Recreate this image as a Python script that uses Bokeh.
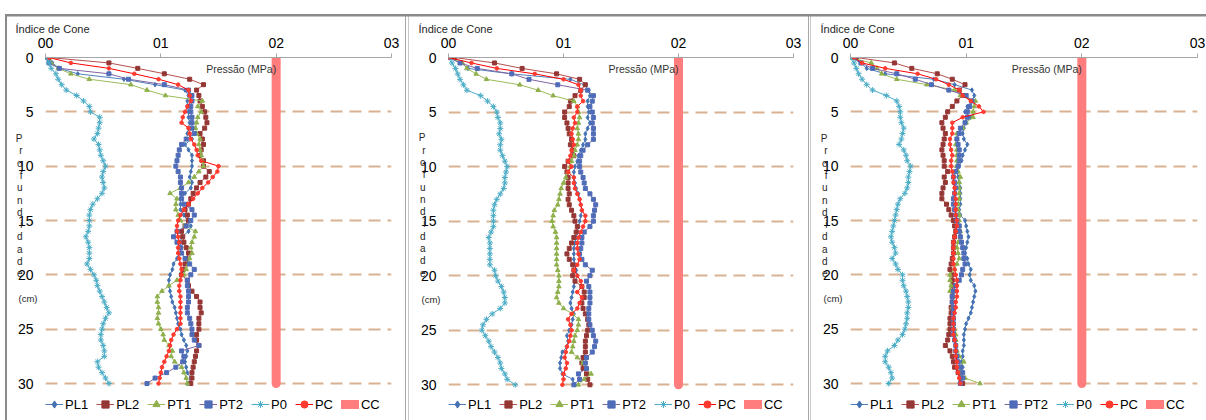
from bokeh.plotting import figure
from bokeh.layouts import row
from bokeh.models import Range1d, FixedTicker, Legend, LegendItem, Label, LinearAxis
from bokeh.embed import file_html
from bokeh.resources import INLINE

# ---------------------------------------------------------------- data
# depth of each reading (cm)
depth = [0, 0.5, 1, 1.5, 2, 2.5, 3, 3.5, 4, 4.5,
         5, 5.5, 6, 6.5, 7, 7.5, 8, 8.5, 9, 9.5,
         10, 10.5, 11, 11.5, 12, 12.5, 13, 13.5, 14, 14.5,
         15, 15.5, 16, 16.5, 17, 17.5, 18, 18.5, 19, 19.5,
         20, 20.5, 21, 21.5, 22, 22.5, 23, 23.5, 24, 24.5,
         25, 25.5, 26, 26.5, 27, 27.5, 28, 28.5, 29, 29.5,
         30]

x_ticks = [0, 1, 2, 3]
x_tick_labels = ["00", "01", "02", "03"]
y_ticks = [0, 5, 10, 15, 20, 25, 30]
grid_depths = [5, 10, 15, 20, 25, 30]
y_title_letters = ["P", "r", "o", "f", "u", "n", "d", "i", "d", "a", "d", "e"]
y_title_unit = "(cm)"

# critical pressure line (CC)
cc_pressure = [2.0, 2.0]
cc_depth = [0, 30]

series_names = ["PL1", "PL2", "PT1", "PT2", "P0", "PC"]

# ---- first profile (MPa)
a_pl1 = [0.00, 0.06, 0.12, 0.28, 0.68, 0.95, 1.21, 1.24, 1.23, 1.23,
         1.24, 1.24, 1.25, 1.24, 1.23, 1.27, 1.21, 1.24, 1.27, 1.27,
         1.27, 1.26, 1.25, 1.27, 1.26, 1.21, 1.17, 1.17, 1.17, 1.20,
         1.23, 1.26, 1.24, 1.18, 1.17, 1.18, 1.16, 1.14, 1.11, 1.10,
         1.08, 1.07, 1.07, 1.08, 1.09, 1.10, 1.12, 1.13, 1.14, 1.15,
         1.17, 1.18, 1.20, 1.22, 1.23, 1.22, 1.21, 1.22, 1.23, 1.26,
         1.23]
a_pl2 = [0.03, 0.55, 0.80, 1.03, 1.25, 1.37, 1.31, 1.33, 1.34, 1.36,
         1.38, 1.39, 1.40, 1.38, 1.34, 1.36, 1.37, 1.35, 1.34, 1.37,
         1.37, 1.42, 1.39, 1.34, 1.31, 1.28, 1.26, 1.24, 1.21, 1.23,
         1.24, 1.21, 1.18, 1.19, 1.20, 1.22, 1.24, 1.22, 1.21, 1.19,
         1.18, 1.23, 1.24, 1.27, 1.31, 1.34, 1.34, 1.35, 1.33, 1.33,
         1.33, 1.31, 1.31, 1.33, 1.31, 1.30, 1.29, 1.28, 1.27, 1.27,
         1.26]
a_pt1 = [0.00, 0.05, 0.11, 0.22, 0.38, 0.74, 0.88, 1.04, 1.36, 1.32,
         1.35, 1.32, 1.31, 1.30, 1.31, 1.34, 1.33, 1.34, 1.35, 1.36,
         1.37, 1.33, 1.29, 1.24, 1.17, 1.08, 1.14, 1.13, 1.13, 1.15,
         1.17, 1.21, 1.30, 1.29, 1.27, 1.26, 1.27, 1.25, 1.24, 1.22,
         1.20, 1.14, 1.07, 1.01, 0.97, 0.97, 0.98, 0.98, 0.97, 0.98,
         1.00, 1.02, 1.03, 1.07, 1.10, 1.09, 1.12, 1.18, 1.20, 1.22,
         1.23]
a_pt2 = [0.00, 0.03, 0.12, 0.55, 0.72, 1.03, 1.24, 1.27, 1.27, 1.26,
         1.26, 1.27, 1.27, 1.27, 1.29, 1.22, 1.18, 1.16, 1.15, 1.14,
         1.13, 1.15, 1.17, 1.17, 1.18, 1.18, 1.18, 1.20, 1.27, 1.29,
         1.26, 1.22, 1.14, 1.11, 1.14, 1.17, 1.18, 1.21, 1.25, 1.29,
         1.26, 1.23, 1.23, 1.24, 1.24, 1.24, 1.23, 1.23, 1.25, 1.26,
         1.27, 1.27, 1.29, 1.33, 1.18, 1.20, 1.19, 1.13, 1.05, 0.95,
         0.88]
a_p0 = [0.01, 0.03, 0.05, 0.09, 0.11, 0.14, 0.18, 0.27, 0.33, 0.38,
        0.39, 0.47, 0.47, 0.46, 0.45, 0.42, 0.46, 0.47, 0.48, 0.50,
        0.52, 0.50, 0.49, 0.50, 0.51, 0.49, 0.45, 0.41, 0.39, 0.38,
        0.38, 0.38, 0.37, 0.35, 0.37, 0.38, 0.38, 0.38, 0.36, 0.39,
        0.42, 0.44, 0.45, 0.47, 0.49, 0.51, 0.53, 0.55, 0.52, 0.50,
        0.49, 0.48, 0.48, 0.50, 0.51, 0.51, 0.45, 0.46, 0.49, 0.52,
        0.55]
a_pc = [0.03, 0.22, 0.55, 0.77, 0.98, 1.15, 1.24, 1.25, 1.26, 1.23,
        1.21, 1.19, 1.18, 1.24, 1.25, 1.26, 1.29, 1.31, 1.32, 1.35,
        1.50, 1.49, 1.45, 1.41, 1.36, 1.32, 1.28, 1.24, 1.20, 1.17,
        1.15, 1.14, 1.14, 1.15, 1.16, 1.15, 1.15, 1.16, 1.17, 1.18,
        1.18, 1.17, 1.16, 1.16, 1.17, 1.17, 1.17, 1.17, 1.17, 1.17,
        1.14, 1.11, 1.09, 1.08, 1.07, 1.05, 1.03, 1.01, 1.00, 0.99,
        0.98]

# ---- second profile (MPa)
b_pl1 = [0.00, 0.11, 0.17, 0.55, 1.06, 1.18, 1.22, 1.23, 1.21, 1.21,
         1.22, 1.21, 1.23, 1.21, 1.19, 1.19, 1.17, 1.15, 1.13, 1.12,
         1.10, 1.09, 1.09, 1.10, 1.11, 1.13, 1.14, 1.15, 1.16, 1.15,
         1.14, 1.13, 1.12, 1.11, 1.10, 1.09, 1.09, 1.09, 1.10, 1.11,
         1.12, 1.10, 1.09, 1.08, 1.07, 1.06, 1.07, 1.09, 1.08, 1.07,
         1.05, 1.03, 1.04, 1.03, 0.99, 0.98, 0.97, 0.97, 0.99, 1.08,
         1.10]
b_pl2 = [0.05, 0.40, 0.64, 0.94, 1.14, 1.19, 1.15, 1.10, 1.06, 1.05,
         1.01, 1.01, 1.03, 1.04, 1.05, 1.07, 1.06, 1.08, 1.09, 1.04,
         1.01, 1.03, 1.04, 1.04, 1.04, 1.05, 1.04, 1.05, 1.07, 1.09,
         1.10, 1.12, 1.11, 1.09, 1.07, 1.05, 1.03, 1.05, 1.08, 1.09,
         1.08, 1.10, 1.16, 1.18, 1.18, 1.16, 1.17, 1.19, 1.21, 1.22,
         1.21, 1.20, 1.19, 1.19, 1.19, 1.17, 1.16, 1.17, 1.20, 1.21,
         1.23]
b_pt1 = [0.00, 0.12, 0.16, 0.24, 0.33, 0.62, 0.78, 0.91, 1.09, 1.12,
         1.13, 1.14, 1.13, 1.12, 1.13, 1.13, 1.12, 1.10, 1.09, 1.07,
         1.06, 1.04, 1.02, 1.00, 0.98, 0.97, 0.96, 0.95, 0.92, 0.91,
         0.90, 0.91, 0.93, 0.94, 0.94, 0.94, 0.94, 0.94, 0.94, 0.95,
         0.96, 0.96, 0.96, 0.95, 0.94, 0.96, 1.00, 1.08, 1.13, 1.13,
         1.12, 1.10, 1.09, 1.08, 1.07, 1.12, 1.17, 1.20, 1.24, 1.18,
         1.13]
b_pt2 = [0.00, 0.10, 0.25, 0.55, 0.70, 0.95, 1.21, 1.26, 1.25, 1.23,
         1.25, 1.26, 1.25, 1.26, 1.26, 1.26, 1.21, 1.17, 1.15, 1.14,
         1.14, 1.15, 1.17, 1.18, 1.19, 1.23, 1.26, 1.28, 1.27, 1.26,
         1.26, 1.23, 1.18, 1.16, 1.16, 1.15, 1.14, 1.16, 1.19, 1.25,
         1.23, 1.20, 1.22, 1.23, 1.23, 1.23, 1.22, 1.22, 1.22, 1.23,
         1.25, 1.26, 1.28, 1.27, 1.25, 1.20, 1.19, 1.20, 1.13, 1.14,
         1.09]
b_p0 = [0.01, 0.03, 0.06, 0.08, 0.10, 0.13, 0.16, 0.28, 0.34, 0.39,
        0.42, 0.43, 0.45, 0.45, 0.44, 0.46, 0.45, 0.45, 0.47, 0.49,
        0.51, 0.50, 0.49, 0.49, 0.48, 0.45, 0.42, 0.40, 0.39, 0.39,
        0.39, 0.39, 0.37, 0.35, 0.36, 0.36, 0.36, 0.36, 0.36, 0.40,
        0.41, 0.43, 0.46, 0.48, 0.49, 0.49, 0.45, 0.38, 0.33, 0.30,
        0.29, 0.32, 0.35, 0.37, 0.40, 0.43, 0.45, 0.46, 0.49, 0.51,
        0.58]
b_pc = [0.00, 0.20, 0.42, 0.75, 1.00, 1.13, 1.15, 1.15, 1.17, 1.12,
        1.12, 1.09, 1.10, 1.08, 1.07, 1.08, 1.09, 1.07, 1.06, 1.04,
        1.07, 1.04, 1.09, 1.09, 1.10, 1.12, 1.14, 1.15, 1.16, 1.19,
        1.19, 1.17, 1.15, 1.13, 1.12, 1.12, 1.13, 1.14, 1.12, 1.09,
        1.12, 1.15, 1.16, 1.12, 1.16, 1.14, 1.12, 1.07, 1.04, 1.06,
        1.07, 1.06, 1.05, 1.03, 1.02, 1.01, 1.03, 1.02, 1.00, 1.00,
        0.99]

# ---- third profile (MPa)
c_pl1 = [0.00, 0.09, 0.14, 0.30, 0.72, 0.90, 1.05, 1.07, 1.05, 1.01,
         0.99, 1.04, 1.00, 0.98, 0.97, 0.98, 1.01, 0.99, 0.97, 0.96,
         0.94, 0.92, 0.93, 0.94, 0.95, 0.95, 0.95, 0.95, 0.94, 0.95,
         0.99, 1.00, 1.01, 1.02, 1.01, 1.00, 0.99, 1.01, 1.02, 1.04,
         1.03, 1.04, 1.07, 1.08, 1.07, 1.06, 1.05, 1.04, 1.02, 1.00,
         0.99, 0.98, 0.98, 0.98, 0.97, 0.97, 0.96, 0.97, 0.96, 0.95,
         0.94]
c_pl2 = [0.05, 0.38, 0.53, 0.75, 0.88, 0.99, 0.94, 0.97, 0.92, 0.88,
         0.84, 0.82, 0.79, 0.80, 0.82, 0.81, 0.80, 0.79, 0.80, 0.81,
         0.81, 0.84, 0.81, 0.82, 0.80, 0.79, 0.79, 0.83, 0.85, 0.87,
         0.89, 0.90, 0.91, 0.90, 0.89, 0.89, 0.89, 0.88, 0.87, 0.86,
         0.88, 0.88, 0.88, 0.88, 0.88, 0.88, 0.87, 0.87, 0.86, 0.86,
         0.86, 0.85, 0.84, 0.82, 0.86, 0.88, 0.89, 0.90, 0.93, 0.95,
         0.97]
c_pt1 = [0.00, 0.18, 0.23, 0.27, 0.40, 0.66, 0.90, 0.95, 1.08, 1.07,
         1.06, 1.06, 1.00, 0.97, 0.92, 0.92, 0.91, 0.92, 0.92, 0.92,
         0.92, 0.93, 0.95, 0.94, 0.94, 0.94, 0.94, 0.93, 0.93, 0.94,
         0.94, 0.94, 0.95, 0.95, 0.93, 0.92, 0.93, 0.94, 0.92, 0.90,
         0.86, 0.86, 0.87, 0.86, 0.89, 0.88, 0.88, 0.89, 0.89, 0.89,
         0.90, 0.91, 0.91, 0.91, 0.92, 0.94, 0.98, 0.95, 0.95, 0.99,
         1.12]
c_pt2 = [0.03, 0.09, 0.19, 0.40, 0.56, 0.70, 0.85, 1.00, 1.05, 1.03,
         1.01, 1.01, 0.99, 0.95, 0.94, 0.92, 0.93, 0.94, 0.94, 0.94,
         0.93, 0.91, 0.89, 0.90, 0.91, 0.90, 0.89, 0.89, 0.90, 0.91,
         0.92, 0.94, 0.94, 0.95, 0.96, 0.97, 0.98, 0.98, 0.99, 0.97,
         0.96, 0.94, 0.91, 0.89, 0.88, 0.88, 0.89, 0.89, 0.89, 0.89,
         0.89, 0.89, 0.90, 0.91, 0.91, 0.92, 0.93, 0.95, 0.97, 0.97,
         0.95]
c_p0 = [0.01, 0.03, 0.05, 0.07, 0.10, 0.14, 0.19, 0.31, 0.40, 0.42,
        0.43, 0.43, 0.44, 0.46, 0.45, 0.44, 0.42, 0.46, 0.48, 0.49,
        0.52, 0.51, 0.50, 0.50, 0.49, 0.47, 0.43, 0.41, 0.40, 0.39,
        0.38, 0.37, 0.36, 0.35, 0.36, 0.38, 0.39, 0.36, 0.39, 0.41,
        0.45, 0.45, 0.46, 0.48, 0.49, 0.50, 0.50, 0.49, 0.49, 0.48,
        0.47, 0.45, 0.41, 0.38, 0.32, 0.30, 0.30, 0.33, 0.35, 0.36,
        0.33]
c_pc = [0.03, 0.10, 0.30, 0.58, 0.74, 0.85, 0.94, 0.97, 1.04, 1.11,
        1.15, 0.97, 0.88, 0.88, 0.88, 0.86, 0.86, 0.87, 0.88, 0.87,
        0.87, 0.88, 0.89, 0.89, 0.90, 0.90, 0.91, 0.91, 0.91, 0.91,
        0.92, 0.92, 0.91, 0.90, 0.89, 0.89, 0.89, 0.89, 0.89, 0.90,
        0.91, 0.92, 0.92, 0.92, 0.92, 0.91, 0.91, 0.90, 0.89, 0.89,
        0.89, 0.89, 0.90, 0.91, 0.91, 0.91, 0.92, 0.92, 0.93, 0.94,
        0.95]

# ---------------------------------------------------------------- styling
FONT = "Liberation Sans"
STYLE = {
    "PL1": dict(line="#4F81BD", marker="diamond", fill="#4472B4", size=4.5),
    "PL2": dict(line="#B5504D", marker="square", fill="#953735", size=4),
    "PT1": dict(line="#9BBB59", marker="triangle", fill="#8FB04C", size=4.5),
    "PT2": dict(line="#8064A2", marker="square", fill="#4F6CB8", size=4),
    "P0": dict(line="#4BACC6", marker="asterisk", fill="#4BACC6", size=6),
    "PC": dict(line="#FF0000", marker="circle", fill="#FF3B2F", size=3.6),
}
CC_COLOR = "#FF7D7D"


def rule(color, x, y, w, h):
    # one straight rule of the panel frame, painted as a CSS background layer
    return f"linear-gradient({color},{color}) {x}px {y}px / {w}px {h}px no-repeat"


def quiet_axis(ax, size, color, standoff):
    ax.axis_line_color = None
    ax.major_tick_line_color = None
    ax.minor_tick_line_color = None
    ax.major_tick_out = 0
    ax.major_tick_in = 0
    ax.major_label_standoff = standoff
    ax.major_label_text_font = FONT
    ax.major_label_text_font_size = size
    ax.major_label_text_color = color


def build(data, g, rules, title_offset, letters_y, cm_y, press_y, legend_xy):
    # canvas y (px) -> depth, using the 0 and 30 cm rows of this panel
    def px2d(py):
        return (py - g["top"]) / (g["d30"] - g["top"]) * 30.0

    y_end = px2d(420)  # frame runs to the bottom of the canvas

    p = figure(width=g["width"], height=420,
               x_range=Range1d(0, 3), y_range=Range1d(y_end, 0),
               x_axis_location="above", toolbar_location=None,
               output_backend="svg",
               min_border_left=g["left"], min_border_right=g["right"],
               min_border_top=g["top"], min_border_bottom=0,
               background_fill_color="white", border_fill_color=None,
               outline_line_color=None,
               styles={"background": ", ".join(rules) + ", #ffffff"})

    p.title.text = "Índice de Cone"
    p.title.align = "left"
    p.title.offset = title_offset
    p.title.text_font = FONT
    p.title.text_font_size = "11px"
    p.title.text_font_style = "normal"
    p.title.text_color = "#262626"
    p.title.standoff = 0

    xa = p.xaxis[0]
    xa.ticker = FixedTicker(ticks=x_ticks)
    xa.major_label_overrides = {t: s for t, s in zip(x_ticks, x_tick_labels)}
    xa.axis_line_color = "#A6A6A6"
    xa.major_tick_line_color = "#A6A6A6"
    xa.major_tick_out = 4
    xa.major_tick_in = 0
    xa.minor_tick_line_color = None
    xa.major_label_text_font = FONT
    xa.major_label_text_font_size = "14px"
    xa.major_label_text_color = "#000000"
    xa.major_label_standoff = 6

    ya = p.yaxis[0]
    ya.ticker = FixedTicker(ticks=y_ticks)
    quiet_axis(ya, "14px", "#000000", 12)

    # stacked-letter depth title, set as two label-only axes
    letter_depths = [px2d(py) for py in letters_y]
    la = LinearAxis(ticker=FixedTicker(ticks=letter_depths),
                    major_label_overrides=dict(zip(letter_depths, y_title_letters)))
    quiet_axis(la, "10px", "#262626", -8)
    p.add_layout(la, "left")
    cm_depth = px2d(cm_y)
    ua = LinearAxis(ticker=FixedTicker(ticks=[cm_depth]),
                    major_label_overrides={cm_depth: y_title_unit})
    quiet_axis(ua, "9.5px", "#262626", -25)
    p.add_layout(ua, "left")

    p.xgrid.visible = False
    p.ygrid.ticker = FixedTicker(ticks=grid_depths)
    p.ygrid.grid_line_color = "#D9B291"
    p.ygrid.grid_line_width = 2
    p.ygrid.grid_line_dash = "12 7"

    items = []
    for name in series_names:
        st = STYLE[name]
        vals = data[name]
        lr = p.line(vals, depth, line_color=st["line"], line_width=1)
        if st["marker"] == "asterisk":
            sr = p.scatter(vals, depth, marker="asterisk", size=st["size"],
                           line_color=st["fill"], line_width=1)
        else:
            sr = p.scatter(vals, depth, marker=st["marker"], size=st["size"],
                           fill_color=st["fill"], line_color=st["fill"])
        items.append(LegendItem(label=name, renderers=[lr, sr]))
    cc = p.line(cc_pressure, cc_depth, line_width=9, line_color=CC_COLOR,
                line_cap="round")
    items.append(LegendItem(label="CC", renderers=[cc]))

    leg = Legend(items=items, orientation="horizontal", location=legend_xy,
                 glyph_width=18, glyph_height=20, label_standoff=2, spacing=8,
                 padding=0, margin=0, label_width=10,
                 border_line_color=None, background_fill_alpha=0,
                 label_text_font=FONT, label_text_font_size="13px",
                 label_text_color="#000000")
    p.add_layout(leg)

    p.add_layout(Label(x=cc_pressure[0], y=px2d(press_y),
                       text="Pressão (MPa)", text_font=FONT,
                       text_font_size="10.5px", text_color="#333333",
                       text_align="right", text_baseline="middle"))
    return p


data_a = dict(zip(series_names, [a_pl1, a_pl2, a_pt1, a_pt2, a_p0, a_pc]))
data_b = dict(zip(series_names, [b_pl1, b_pl2, b_pt1, b_pt2, b_p0, b_pc]))
data_c = dict(zip(series_names, [c_pl1, c_pl2, c_pt1, c_pt2, c_p0, c_pc]))

G1 = dict(width=406, left=45, right=15, top=57, d30=383)
G2 = dict(width=404, left=42, right=17, top=54, d30=384)
G3 = dict(width=396, left=40, right=9, top=57, d30=383)

DARK = "#8A8A8A"
MID = "#A6A6A6"
LIGHT = "#C8C8C8"

letters_y_a = [138 + 12.3 * i for i in range(12)]
letters_y_b = [135 + 12.4 * i for i in range(12)]

p1 = build(data_a, G1,
           [rule(DARK, 5, 13.5, 401, 2.5), rule(DARK, 5, 13.5, 2, 407),
            rule(MID, 405, 16, 1, 404)],
           -30, letters_y_a, 298, 68, (0, 5.7))
p2 = build(data_b, G2,
           [rule(DARK, 0, 13.5, 404, 2.5), rule(LIGHT, 2, 16, 1, 404),
            rule(MID, 402, 16, 1, 404)],
           -30, letters_y_b, 298, 65.7, (0, 5.7))
p3 = build(data_c, G3,
           [rule(DARK, 0, 13.5, 396, 2.5), rule(LIGHT, 0, 16, 1, 404)],
           -30, letters_y_a, 298, 68, (0, 5.7))

layout = row(p1, p2, p3)
open("out.html", "w").write(file_html(layout, INLINE))
